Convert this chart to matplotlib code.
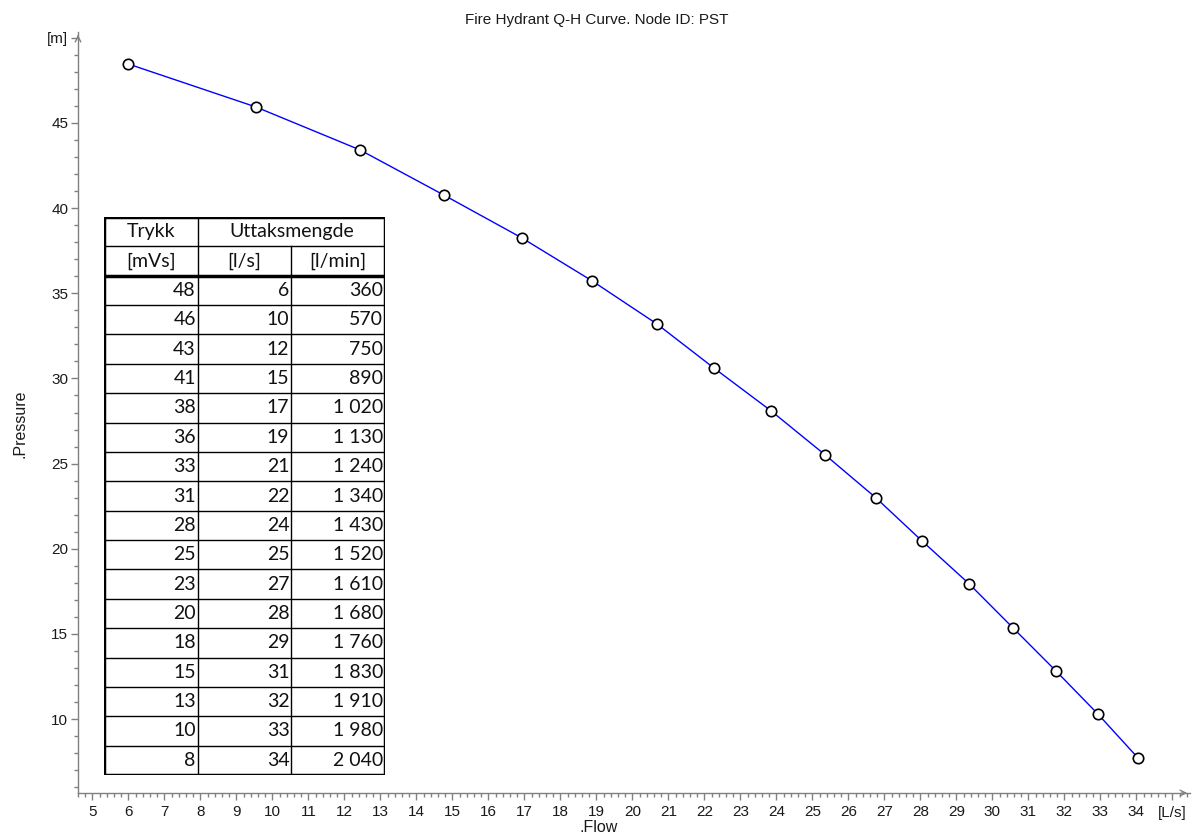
import matplotlib
matplotlib.use("Agg")
import matplotlib.pyplot as plt
from matplotlib.ticker import MultipleLocator, FuncFormatter

# ------------------------ Data ------------------------

# Punkti della curva Q-H
flow = [6.0, 9.54, 12.43, 14.76, 16.93, 18.88, 20.68, 22.26, 23.85,
        25.35, 26.76, 28.04, 29.35, 30.57, 31.76, 32.93, 34.04]
pressure = [48.46, 45.94, 43.42, 40.77, 38.25, 35.73, 33.2, 30.62, 28.1,
            25.52, 23.0, 20.47, 17.95, 15.36, 12.84, 10.3, 7.73]

# Tabella
trykk = [48, 46, 43, 41, 38, 36, 33, 31, 28, 25, 23, 20, 18, 15, 13, 10, 8]
uttak_ls = [6, 10, 12, 15, 17, 19, 21, 22, 24, 25, 27, 28, 29, 31, 32, 33, 34]
uttak_lmin = [360, 570, 750, 890, 1020, 1130, 1240, 1340, 1430, 1520,
              1610, 1680, 1760, 1830, 1910, 1980, 2040]

title = "Fire Hydrant Q-H Curve. Node ID: PST"

# ------------------------ Plot ------------------------

plt.rcParams['font.family'] = ['Liberation Sans', 'DejaVu Sans']
axis_col = '#808080'
text_col = '#1a1a1a'

fig = plt.figure(figsize=(11.92, 8.36), dpi=100)
ax = fig.add_axes([78 / 1192, 1 - 793 / 836, (1190 - 78) / 1192, (793 - 32) / 836])

ax.plot(flow, pressure, color='#0000ff', lw=1, zorder=2)
ax.plot(flow, pressure, 'o', ms=7.5, mfc='white', mec='black', mew=1.2, ls='none', zorder=3)

ax.set_xlim(4.6, 35.49)
ax.set_ylim(5.66, 50.34)

for s in ['top', 'right']:
    ax.spines[s].set_visible(False)
for s in ['left', 'bottom']:
    ax.spines[s].set_color(axis_col)
    ax.spines[s].set_linewidth(1)

ax.xaxis.set_major_locator(MultipleLocator(1))
ax.xaxis.set_minor_locator(MultipleLocator(0.2))
ax.yaxis.set_major_locator(MultipleLocator(5))
ax.yaxis.set_minor_locator(MultipleLocator(1))

ax.xaxis.set_major_formatter(FuncFormatter(lambda v, p: '[L/s]' if round(v) == 35 else f'{v:.0f}'))
ax.yaxis.set_major_formatter(FuncFormatter(lambda v, p: '[m]' if round(v) == 50 else f'{v:.0f}'))

ax.tick_params(axis='both', which='major', colors=axis_col, labelcolor=text_col,
               labelsize=11, length=5, width=1)
ax.tick_params(axis='both', which='minor', colors=axis_col, length=3, width=1)
ax.tick_params(axis='x', which='major', pad=4)
ax.tick_params(axis='y', which='major', pad=2)

# frecce sugli assi
ax.annotate('', xy=(1.0, 0), xytext=(0.99, 0), xycoords='axes fraction',
            arrowprops=dict(arrowstyle='->', color=axis_col, lw=1))
ax.annotate('', xy=(0, 1.0), xytext=(0, 0.99), xycoords='axes fraction',
            arrowprops=dict(arrowstyle='->', color=axis_col, lw=1))

fig.text(597 / 1192, 1 - 20 / 836, title, ha='center', va='center', fontsize=11, color=text_col)
fig.text(20 / 1192, 1 - 424 / 836, '.Pressure', ha='center', va='center', rotation=90,
         fontsize=11.5, color=text_col)
fig.text(599 / 1192, 1 - 828 / 836, '.Flow', ha='center', va='center', fontsize=11.5, color=text_col)

# ------------------------ Tabella ------------------------

tab = fig.add_axes([104 / 1192, 1 - 775 / 836, 281 / 1192, 558 / 836])
n_rows = len(trykk) + 2
tab.set_xlim(0, 3)
tab.set_ylim(n_rows, 0)
tab.axis('off')
tab.patch.set_facecolor('white')
tab.patch.set_visible(True)

tfont = dict(family=['Lato', 'DejaVu Sans'], fontsize=14, color='#111111')

def fmt(n):
    return f'{n:,}'.replace(',', ' ')

# linee orizzontali
for r in range(1, n_rows):
    lw = 2.5 if r == 2 else 1
    tab.plot([0, 3], [r, r], color='black', lw=lw, solid_capstyle='butt')
# linee verticali
tab.plot([1, 1], [0, n_rows], color='black', lw=1)
tab.plot([2, 2], [1, n_rows], color='black', lw=1)
# bordo esterno
tab.plot([0, 3, 3, 0, 0], [0, 0, n_rows, n_rows, 0], color='black', lw=2.5, solid_joinstyle='miter')

tab.text(0.5, 0.5, 'Trykk', ha='center', va='center', **tfont)
tab.text(2.0, 0.5, 'Uttaksmengde', ha='center', va='center', **tfont)
tab.text(0.5, 1.5, '[mVs]', ha='center', va='center', **tfont)
tab.text(1.5, 1.5, '[l/s]', ha='center', va='center', **tfont)
tab.text(2.5, 1.5, '[l/min]', ha='center', va='center', **tfont)

pad = 0.02
for i, (a, b, c) in enumerate(zip(trykk, uttak_ls, uttak_lmin)):
    y = i + 2.5
    tab.text(1 - pad, y, str(a), ha='right', va='center', **tfont)
    tab.text(2 - pad, y, str(b), ha='right', va='center', **tfont)
    tab.text(3 - pad, y, fmt(c), ha='right', va='center', **tfont)

plt.savefig('out.png', dpi=100)
plt.close()
